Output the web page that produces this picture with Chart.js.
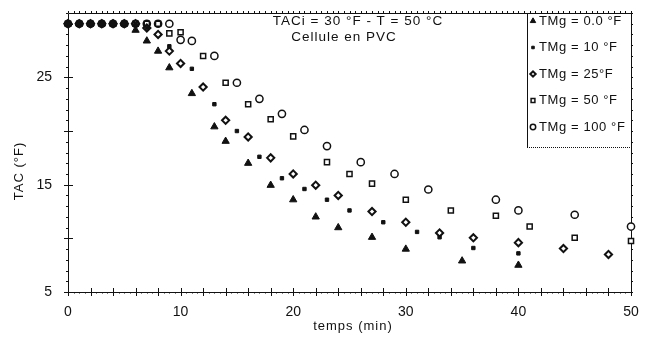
<!DOCTYPE html>
<html>
<head>
<meta charset="utf-8">
<script src="https://cdn.jsdelivr.net/npm/chart.js@4/dist/chart.umd.min.js"></script>
<style>
  html, body { margin: 0; padding: 0; background: #fff; }
  canvas { display: block; }
</style>
</head>
<body>
<canvas id="tacChart" width="646" height="356"></canvas>
<script>
// TAC (°F) against time (min), one series per TMg
const t00   = [0, 1, 2, 3, 4, 5, 6, 7, 8, 9, 11, 13, 14, 16, 18, 20, 22, 24, 27, 30, 35, 40];
const tac00 = [30, 30, 30, 30, 30, 30, 29.4, 28.4, 27.45, 25.9, 23.5, 20.4, 19.05, 17.0, 14.95, 13.6, 12.0, 11.0, 10.1, 9.0, 7.9, 7.5];

const t10   = [0, 1, 2, 3, 4, 5, 6, 7, 9, 11, 13, 15, 17, 19, 21, 23, 25, 28, 31, 33, 36, 40];
const tac10 = [30, 30, 30, 30, 30, 30, 30, 29.6, 27.9, 25.8, 22.5, 20.0, 17.6, 15.6, 14.6, 13.6, 12.6, 11.5, 10.6, 10.1, 9.1, 8.6];

const t25   = [0, 1, 2, 3, 4, 5, 6, 7, 8, 9, 10, 12, 14, 16, 18, 20, 22, 24, 27, 30, 33, 36, 40, 44, 48];
const tac25 = [30, 30, 30, 30, 30, 30, 30, 29.6, 29.0, 27.45, 26.3, 24.1, 21.0, 19.45, 17.5, 16.0, 14.95, 14.0, 12.5, 11.5, 10.5, 10.05, 9.6, 9.05, 8.5];

const t50   = [0, 1, 2, 3, 4, 5, 6, 7, 8, 9, 10, 12, 14, 16, 18, 20, 23, 25, 27, 30, 34, 38, 41, 45, 50];
const tac50 = [30, 30, 30, 30, 30, 30, 30, 30, 30, 29.1, 29.2, 27.0, 24.5, 22.5, 21.1, 19.5, 17.1, 16.0, 15.1, 13.6, 12.6, 12.1, 11.1, 10.05, 9.75];

const t100   = [0, 1, 2, 3, 4, 5, 6, 7, 8, 9, 10, 11, 13, 15, 17, 19, 21, 23, 26, 29, 32, 38, 40, 45, 50];
const tac100 = [30, 30, 30, 30, 30, 30, 30, 30, 30, 30, 28.5, 28.4, 27.0, 24.5, 23.0, 21.6, 20.1, 18.6, 17.1, 16.0, 14.55, 13.6, 12.6, 12.2, 11.1];

const seriesLabels = ['TMg = 0.0 °F', 'TMg = 10 °F', 'TMg = 25°F', 'TMg = 50 °F', 'TMg = 100 °F'];

const xTickValues = [0, 10, 20, 30, 40, 50];
const yTickValues = [5, 15, 25];

const xTitle = 'temps (min)';
const yTitle = 'TAC (°F)';
const noteLines = ['TACi = 30 °F - T = 50 °C', 'Cellule en PVC'];

const FONT = '"Liberation Sans", Arial, sans-serif';
const INK = '#111';

function toPoints(xs, ys) {
    let pts = [];
    for ( let i = 0; i < xs.length; i++ ) {
        pts.push({ x: xs[i], y: ys[i] });
    }
    return pts;
}

// marker look per series
const markers = [
    { pointStyle: 'triangle', radius: 4.2, fill: INK,    border: INK, width: 1 },
    { pointStyle: 'rect',     radius: 2.4, fill: INK,    border: INK, width: 1 },
    { pointStyle: 'rectRot',  radius: 3.6, fill: '#fff', border: INK, width: 2 },
    { pointStyle: 'rect',     radius: 3.6, fill: '#fff', border: INK, width: 1.5 },
    { pointStyle: 'circle',   radius: 3.6, fill: '#fff', border: INK, width: 1.5 }
];

const seriesData = [
    toPoints(t00, tac00),
    toPoints(t10, tac10),
    toPoints(t25, tac25),
    toPoints(t50, tac50),
    toPoints(t100, tac100)
];

let datasets = [];
for ( let i = 0; i < seriesData.length; i++ ) {
    datasets.push({
        label: seriesLabels[i],
        data: seriesData[i],
        pointStyle: markers[i].pointStyle,
        pointRadius: markers[i].radius,
        pointHoverRadius: markers[i].radius,
        backgroundColor: markers[i].fill,
        borderColor: markers[i].border,
        pointBorderWidth: markers[i].width,
        showLine: false,
        clip: false
    });
}

// plot frame with ticks crossing the axes
const framePlugin = {
    id: 'frame',
    beforeDatasetsDraw(chart) {
        const ctx = chart.ctx;
        const a = chart.chartArea;
        const xs = chart.scales.x;
        const ys = chart.scales.y;

        ctx.save();
        ctx.strokeStyle = INK;
        ctx.lineWidth = 1;

        // border
        ctx.beginPath();
        ctx.rect(Math.round(a.left) + 0.5, Math.round(a.top) + 0.5, Math.round(a.right - a.left), Math.round(a.bottom - a.top));
        ctx.stroke();

        ctx.beginPath();
        // x ticks: major every 2 min, minor every 0.5 min
        for ( let v = 0; v <= 50; v += 0.5 ) {
            const px = Math.round(xs.getPixelForValue(v)) + 0.5;
            if ( v % 2 === 0 ) {
                ctx.moveTo(px, a.bottom - 4);
                ctx.lineTo(px, a.bottom + 4);
            } else {
                ctx.moveTo(px, a.bottom);
                ctx.lineTo(px, a.bottom + 1.5);
            }
            // top edge ticks
            ctx.moveTo(px, a.top);
            ctx.lineTo(px, a.top - 2);
        }
        // y ticks: major every 5, minor every 1
        for ( let v = 5; v <= 31; v += 1 ) {
            const py = Math.round(ys.getPixelForValue(v)) + 0.5;
            if ( (v - 5) % 5 === 0 ) {
                ctx.moveTo(a.left - 4, py);
                ctx.lineTo(a.left + 5, py);
            } else {
                ctx.moveTo(a.left - 2, py);
                ctx.lineTo(a.left, py);
            }
            // right edge ticks
            ctx.moveTo(a.right, py);
            ctx.lineTo(a.right + 2, py);
        }
        ctx.stroke();

        // axis titles
        ctx.fillStyle = INK;
        ctx.font = '13px ' + FONT;
        ctx.letterSpacing = '1px';
        ctx.textAlign = 'center';
        ctx.textBaseline = 'middle';
        ctx.fillText(xTitle, 353, 326);

        ctx.save();
        ctx.translate(19, 171);
        ctx.rotate(-Math.PI / 2);
        ctx.fillText(yTitle, 0, 0);
        ctx.restore();

        // note in the upper middle
        ctx.font = '13.5px ' + FONT;
        ctx.fillText(noteLines[0], 358, 21);
        ctx.fillText(noteLines[1], 344, 37);

        ctx.restore();
    }
};

// legend box in the top right corner
const legendPlugin = {
    id: 'cornerLegend',
    afterDraw(chart) {
        const ctx = chart.ctx;
        const a = chart.chartArea;
        const left = 527, top = Math.round(a.top), right = Math.round(a.right), bottom = 147;

        ctx.save();
        ctx.fillStyle = '#fff';
        ctx.fillRect(left, top + 1, right - left, bottom - top - 1);

        ctx.strokeStyle = INK;
        ctx.lineWidth = 1;
        ctx.beginPath();
        ctx.moveTo(left + 0.5, top);
        ctx.lineTo(left + 0.5, bottom);
        ctx.stroke();

        ctx.setLineDash([1, 1]);
        ctx.beginPath();
        ctx.moveTo(left, bottom + 0.5);
        ctx.lineTo(right, bottom + 0.5);
        ctx.stroke();
        ctx.setLineDash([]);

        ctx.font = '13px ' + FONT;
        ctx.letterSpacing = '0.6px';
        ctx.textAlign = 'left';
        ctx.textBaseline = 'middle';

        for ( let i = 0; i < chart.data.datasets.length; i++ ) {
            const ds = chart.data.datasets[i];
            const y = 21 + i * 26.5;
            ctx.fillStyle = ds.backgroundColor;
            ctx.strokeStyle = ds.borderColor;
            ctx.lineWidth = ds.pointBorderWidth;
            Chart.helpers.drawPoint(ctx, {
                pointStyle: ds.pointStyle,
                radius: ds.pointRadius * 0.75,
                rotation: 0,
                borderWidth: ds.pointBorderWidth
            }, 533, y);
            ctx.fillStyle = INK;
            ctx.fillText(ds.label, 539, y);
        }
        ctx.restore();
    }
};

new Chart(document.getElementById('tacChart'), {
    type: 'scatter',
    data: { datasets: datasets },
    options: {
        responsive: false,
        animation: false,
        devicePixelRatio: 1,
        layout: { padding: { top: 13, right: 15, bottom: 0, left: 0 } },
        plugins: {
            legend: { display: false },
            tooltip: { enabled: false }
        },
        scales: {
            x: {
                type: 'linear',
                min: 0,
                max: 50,
                grid: { display: false, drawTicks: false },
                border: { display: false },
                ticks: {
                    padding: 12,
                    color: INK,
                    font: { family: FONT, size: 14 }
                },
                afterBuildTicks(scale) {
                    scale.ticks = xTickValues.map(v => ({ value: v }));
                },
                afterFit(scale) {
                    scale.height = 64;
                    scale.paddingLeft = 0;
                    scale.paddingRight = 0;
                }
            },
            y: {
                type: 'linear',
                min: 5,
                max: 31,
                grid: { display: false, drawTicks: false },
                border: { display: false },
                ticks: {
                    padding: 16,
                    color: INK,
                    font: { family: FONT, size: 14 }
                },
                afterBuildTicks(scale) {
                    scale.ticks = yTickValues.map(v => ({ value: v }));
                },
                afterFit(scale) {
                    scale.width = 68;
                    scale.paddingTop = 0;
                    scale.paddingBottom = 0;
                }
            }
        }
    },
    plugins: [framePlugin, legendPlugin]
});
</script>
</body>
</html>
